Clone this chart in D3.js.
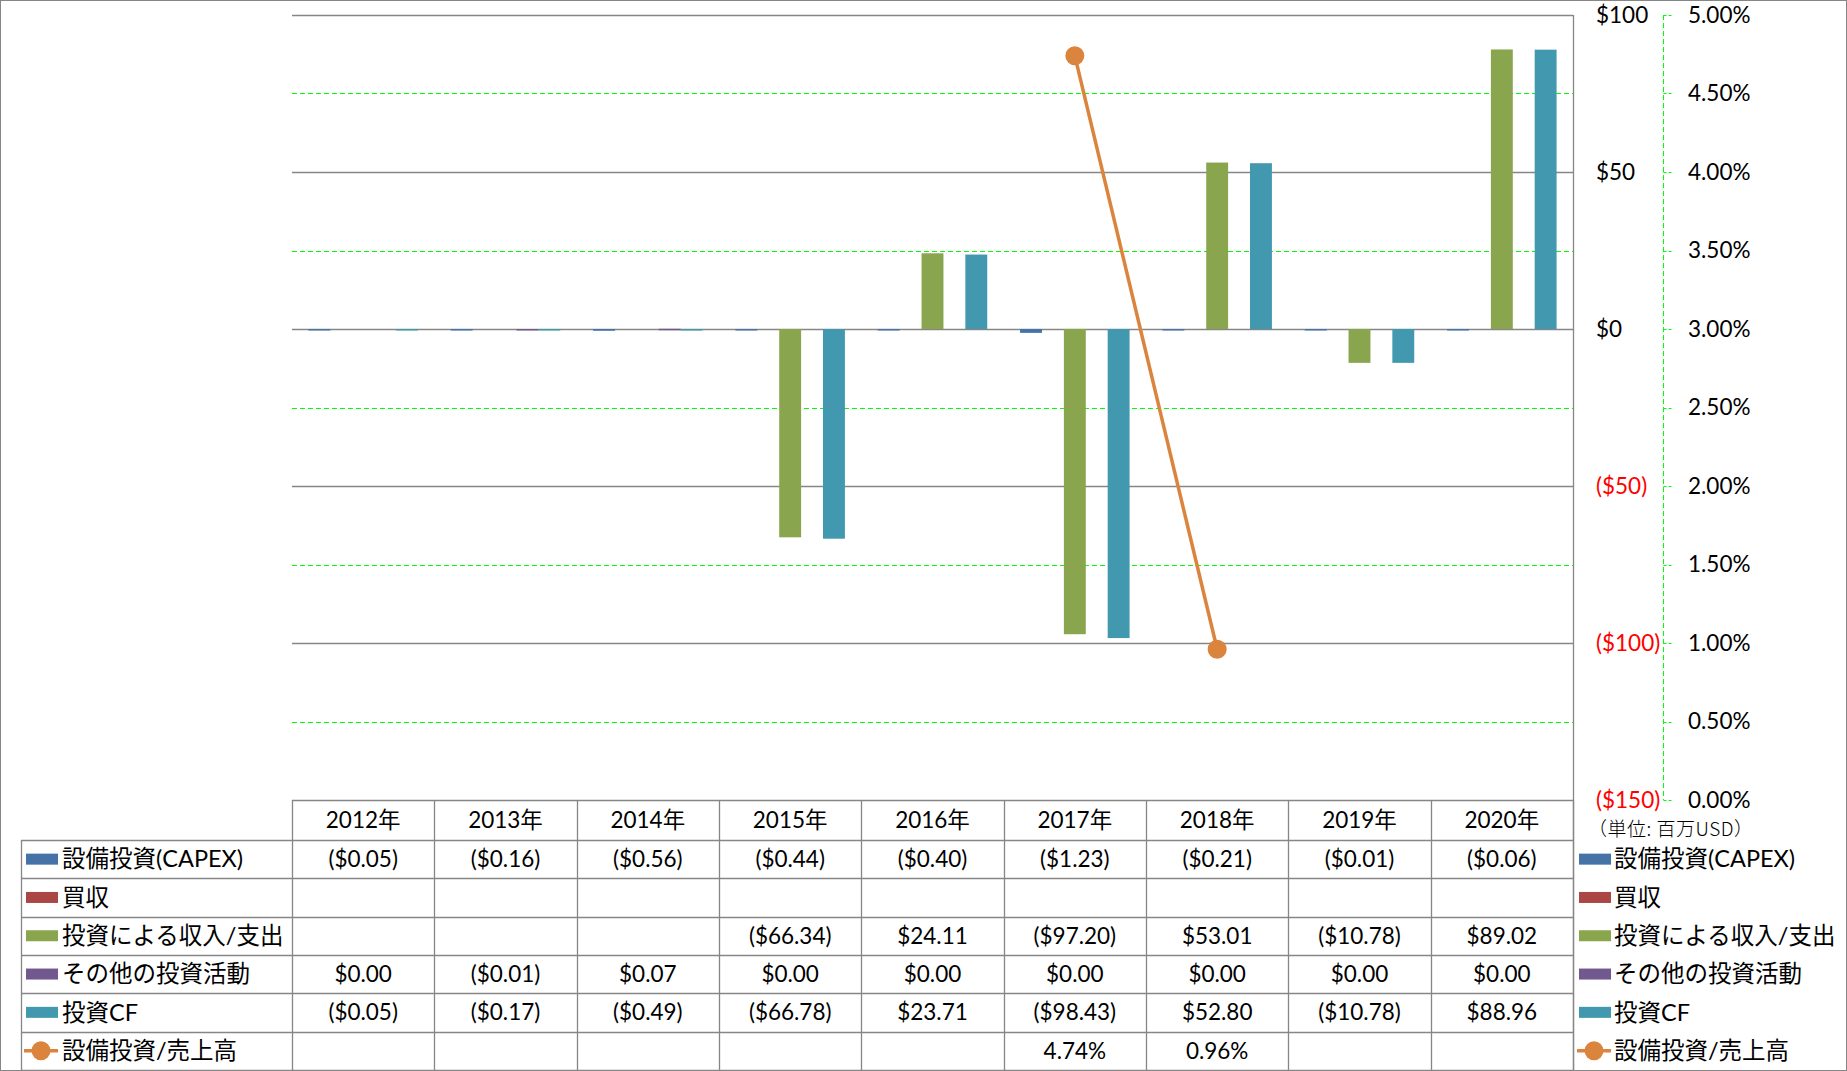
<!DOCTYPE html>
<html><head><meta charset="utf-8">
<script src="https://cdn.jsdelivr.net/npm/d3@7"></script>
<style>
body{margin:0;background:#fff;}
text{font-family:Lato,"Noto Sans CJK JP",sans-serif;fill:#000;}
</style></head>
<body><svg id="c" width="1847" height="1071"></svg>
<script>
const categories=["2012年","2013年","2014年","2015年","2016年","2017年","2018年","2019年","2020年"];
const seriesNames=["設備投資(CAPEX)","買収","投資による収入/支出","その他の投資活動","投資CF"];
const capex=[-0.05,-0.16,-0.56,-0.44,-0.40,-1.23,-0.21,-0.01,-0.06];
const acquisition=[null,null,null,null,null,null,null,null,null];
const proceeds=[null,null,null,-66.34,24.11,-97.20,53.01,-10.78,89.02];
const otherInv=[0.00,-0.01,0.07,0.00,0.00,0.00,0.00,0.00,0.00];
const investCF=[-0.05,-0.17,-0.49,-66.78,23.71,-98.43,52.80,-10.78,88.96];
const lineName="設備投資/売上高";
const capexRatio=[null,null,null,null,null,4.74,0.96,null,null];
const leftTicks=[100,50,0,-50,-100,-150];
const rightTicks=[5,4.5,4,3.5,3,2.5,2,1.5,1,0.5,0];
const unitLabel="（単位: 百万USD）";
const colors=["#4572A7","#AA4643","#89A54E","#71588F","#4198AF"];
const lineColor="#DB843D";

const barSeries=[capex,acquisition,proceeds,otherInv,investCF];
const svg=d3.select("#c");
const L=292,R=1573,T=15,B=800;
const fs=22.5, fsJ=23.5;
svg.append("rect").attr("x",0.5).attr("y",0.5).attr("width",1846).attr("height",1070).attr("fill","none").attr("stroke","#868686");

const x=d3.scaleBand().domain(categories).range([L,R]).paddingInner(0).paddingOuter(0);
const y=d3.scaleLinear().domain([-150,100]).range([B,T]);
const y2=d3.scaleLinear().domain([0,5]).range([B,T]);
const bw=x.bandwidth()/6.5;

svg.append("g").selectAll("line").data(rightTicks).join("line")
 .attr("x1",L).attr("x2",R).attr("y1",d=>Math.round(y2(d))+0.5).attr("y2",d=>Math.round(y2(d))+0.5)
 .attr("stroke","#00FF00").attr("stroke-dasharray","5,3").attr("stroke-width",1);
svg.append("g").selectAll("line").data(leftTicks).join("line")
 .attr("x1",L).attr("x2",R).attr("y1",d=>Math.round(y(d))+0.5).attr("y2",d=>Math.round(y(d))+0.5)
 .attr("stroke","#868686").attr("stroke-width",1.3);
svg.append("line").attr("x1",R+0.5).attr("x2",R+0.5).attr("y1",T).attr("y2",1070).attr("stroke","#868686").attr("stroke-width",1.3);

barSeries.forEach((arr,si)=>{
  svg.append("g").selectAll("rect").data(arr.map((v,i)=>({v,i})).filter(d=>d.v!==null && d.v!==0)).join("rect")
   .attr("x",d=>x(categories[d.i])+0.75*bw+si*bw)
   .attr("width",bw)
   .attr("y",d=>d.v>=0?y(d.v):y(0))
   .attr("height",d=>Math.max(Math.abs(y(d.v)-y(0)),1.5))
   .attr("fill",colors[si]);
});

const pts=capexRatio.map((v,i)=>({v,i})).filter(d=>d.v!==null);
svg.append("path").datum(pts)
 .attr("d",d3.line().x(d=>x(categories[d.i])+x.bandwidth()/2).y(d=>y2(d.v)))
 .attr("fill","none").attr("stroke",lineColor).attr("stroke-width",3.5);
svg.append("g").selectAll("circle").data(pts).join("circle")
 .attr("cx",d=>x(categories[d.i])+x.bandwidth()/2).attr("cy",d=>y2(d.v)).attr("r",9.5).attr("fill",lineColor);

const fmtD=v=>v<0?`($${Math.abs(v)})`:`$${v}`;
svg.append("g").selectAll("text").data(leftTicks).join("text")
 .attr("x",1596).attr("y",d=>y(d)).attr("dy","0.35em").attr("font-size",fs)
 .style("fill",d=>d<0?"#FF0000":"#000").text(fmtD);
const AX=1663.5;
svg.append("line").attr("x1",AX).attr("x2",AX).attr("y1",T).attr("y2",B).attr("stroke","#00FF00").attr("stroke-dasharray","5,3");
svg.append("g").selectAll("line").data(rightTicks).join("line")
 .attr("x1",AX).attr("x2",AX+8).attr("y1",d=>Math.round(y2(d))+0.5).attr("y2",d=>Math.round(y2(d))+0.5)
 .attr("stroke","#00FF00").attr("stroke-dasharray","3,2");
svg.append("g").selectAll("text").data(rightTicks).join("text")
 .attr("x",1688).attr("y",d=>y2(d)).attr("dy","0.35em").attr("font-size",fs)
 .text(d=>d.toFixed(2)+"%");
svg.append("text").attr("x",1588).attr("y",829).attr("dy","0.35em").attr("font-size",19)
 .style("font-family","'Noto Sans CJK JP',sans-serif").style("font-weight",300).style("letter-spacing","0.5px").text(unitLabel);

const rowTop=[840,878.3,916.6,954.9,993.2,1031.5,1070];
const TL=21;
const grid=svg.append("g").attr("stroke","#868686").attr("stroke-width",1.3);
d3.range(10).forEach(k=>{
  const xx=Math.round(L+k*x.bandwidth())+0.5;
  grid.append("line").attr("x1",xx).attr("x2",xx).attr("y1",B).attr("y2",1070);
});
grid.append("line").attr("x1",TL+0.5).attr("x2",TL+0.5).attr("y1",840).attr("y2",1070);
rowTop.forEach(r=>{
  grid.append("line").attr("x1",TL).attr("x2",R).attr("y1",Math.round(r)+0.5).attr("y2",Math.round(r)+0.5);
});
svg.append("g").selectAll("text").data(categories).join("text")
 .attr("x",d=>x(d)+x.bandwidth()/2).attr("y",(B+840)/2).attr("dy","0.35em")
 .attr("text-anchor","middle").attr("font-size",fs).text(d=>d);
const fmtV=v=>v===null?"":(v<0?`($${Math.abs(v).toFixed(2)})`:`$${v.toFixed(2)}`);
const allRows=[...barSeries.map((a,i)=>({name:seriesNames[i],vals:a.map(fmtV),color:colors[i],line:false})),
  {name:lineName,vals:capexRatio.map(v=>v===null?"":v.toFixed(2)+"%"),color:lineColor,line:true}];
allRows.forEach((row,ri)=>{
  const cy=(rowTop[ri]+rowTop[ri+1])/2;
  const g=svg.append("g");
  g.selectAll("text").data(row.vals).join("text")
   .attr("x",(d,i)=>x(categories[i])+x.bandwidth()/2).attr("y",cy).attr("dy","0.35em")
   .attr("text-anchor","middle").attr("font-size",fs).text(d=>d);
  [[26,62],[1579,1614]].forEach(([sx,tx])=>{
    if(row.line){
      g.append("line").attr("x1",sx-2).attr("x2",sx+32).attr("y1",cy).attr("y2",cy).attr("stroke",row.color).attr("stroke-width",3.5);
      g.append("circle").attr("cx",sx+15).attr("cy",cy).attr("r",9.5).attr("fill",row.color);
    } else {
      g.append("rect").attr("x",sx).attr("y",cy-5.5).attr("width",32).attr("height",11).attr("fill",row.color);
    }
    g.append("text").attr("x",tx).attr("y",cy).attr("dy","0.35em").attr("font-size",fsJ).text(row.name);
  });
});
</script></body></html>
